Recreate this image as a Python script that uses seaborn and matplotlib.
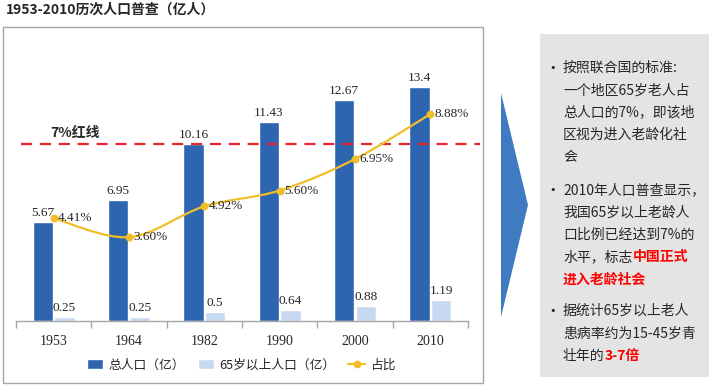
import numpy as np
import pandas as pd
import matplotlib
matplotlib.use("Agg")
import matplotlib.pyplot as plt
import seaborn as sns
from matplotlib.path import Path
from matplotlib.patches import PathPatch, Patch, Rectangle, Polygon
from matplotlib.lines import Line2D

# data
years = ["1953", "1964", "1982", "1990", "2000", "2010"]
total_pop = [5.67, 6.95, 10.16, 11.43, 12.67, 13.4]
elderly_pop = [0.25, 0.25, 0.5, 0.64, 0.88, 1.19]
elderly_ratio = [4.41, 3.60, 4.92, 5.60, 6.95, 8.88]
series_names = ["总人口（亿）", "65岁以上人口（亿）", "占比"]
red_line_label = "7%红线"
red_line_pos = 7.6  # drawn a bit above the 7% point, as in the original

title = "1953-2010历次人口普查（亿人）"
notes = [
    [["按照联合国的标准:"], ["一个地区65岁老人占"], ["总人口的7%，即该地"],
     ["区视为进入老龄化社"], ["会"]],
    [["2010年人口普查显示，"], ["我国65岁以上老龄人"], ["口比例已经达到7%的"],
     ["水平，标志", "中国正式"], ["", "进入老龄社会"]],
    [["据统计65岁以上老人"], ["患病率约为15-45岁青"], ["壮年的", "3-7倍"]],
]
note_tops = [68, 190, 311]

dark_blue = "#2E65B0"
light_blue = "#C6D9F0"
gold = "#F0BE28"
red = "#E8252A"

sns.set_theme(style="white")
cjk = ["Noto Sans CJK SC", "DejaVu Sans"]
serif = ["Liberation Serif", "DejaVu Serif"]
plt.rcParams["font.family"] = cjk

W, H = 710, 386


def px(x, y):
    return x / W, 1 - y / H


fig = plt.figure(figsize=(W / 100, H / 100), dpi=100)
ax = fig.add_axes([16 / W, (H - 321) / H, 452 / W, 281 / H])

df = pd.DataFrame({
    "year": years * 2,
    "value": total_pop + elderly_pop,
    "series": [series_names[0]] * len(years) + [series_names[1]] * len(years),
})
sns.barplot(data=df, x="year", y="value", hue="series",
            palette=[dark_blue, light_blue], saturation=1, width=0.57,
            gap=0.05, errorbar=None, legend=False, ax=ax)
for cont in ax.containers:
    ax.bar_label(cont, fmt="%g", padding=2, fontsize=9.5, family=serif)

ax.set_ylim(0, 16.1)
ax.set_xlim(-0.5, len(years) - 0.5)
ax.set_xlabel("")
ax.set_ylabel("")
ax.set_yticks([])
ax.set_xticks(np.arange(-0.5, len(years)), minor=True)
ax.tick_params(axis="x", which="major", length=0, pad=10, labelsize=10)
ax.tick_params(axis="x", which="minor", length=5, width=1, color="#A6A6A6",
               direction="out", bottom=True)
for lab in ax.get_xticklabels():
    lab.set_family(serif)
for s in ["top", "left", "right"]:
    ax.spines[s].set_visible(False)
ax.spines["bottom"].set_color("#A6A6A6")
ax.spines["bottom"].set_linewidth(1)

# ratio on a second axis, smoothed line like the original
ax2 = ax.twinx()
ax2.set_ylim(0, 12.06)
xs = np.arange(len(elderly_ratio))
pts = np.column_stack([xs, elderly_ratio]).astype(float)
verts = [pts[0]]
codes = [Path.MOVETO]
n = len(pts)
for i in range(n - 1):
    p0, p1, p2, p3 = pts[max(i - 1, 0)], pts[i], pts[i + 1], pts[min(i + 2, n - 1)]
    verts += [p1 + (p2 - p0) / 6, p2 - (p3 - p1) / 6, p2]
    codes += [Path.CURVE4] * 3
ax2.add_patch(PathPatch(Path(verts, codes), fill=False, edgecolor=gold,
                        lw=1.6, zorder=3))
sns.scatterplot(x=xs, y=elderly_ratio, color=gold, s=28, edgecolor=gold,
                zorder=4, legend=False, ax=ax2)
for x, v in zip(xs, elderly_ratio):
    ax2.annotate(f"{v:.2f}%", (x, v), xytext=(3, 0), textcoords="offset points",
                 ha="left", va="center", fontsize=9.5, family=serif)

ax2.axhline(red_line_pos, xmin=0.011, xmax=1.027, color=red, lw=1.6,
            ls=(0, (5, 3.5)), clip_on=False, zorder=2)
ax2.annotate(red_line_label, (-0.05, red_line_pos), xytext=(0, 3),
             textcoords="offset points", ha="left", va="bottom",
             fontsize=10, fontweight="bold")
ax2.set_xlim(-0.5, len(years) - 0.5)
ax2.set_yticks([])
ax2.set_ylabel("")
for s in ax2.spines.values():
    s.set_visible(False)

handles = [Patch(facecolor=dark_blue), Patch(facecolor=light_blue),
           Line2D([], [], color=gold, lw=1.6, marker="o", ms=4.5)]
fig.legend(handles, series_names, loc="center", bbox_to_anchor=px(241, 365),
           ncol=3, frameon=False, handlelength=1.3, handleheight=0.8,
           handletextpad=0.4, columnspacing=1.0, fontsize=9.2)

# frame round the chart, title, arrow and notes panel
fig.add_artist(Rectangle(px(3, 383), 480 / W, 356 / H, transform=fig.transFigure,
                         fill=False, edgecolor="#A6A6A6", lw=1))
fig.text(*px(6, 10), title, fontsize=10, fontweight="bold", va="center", ha="left")
fig.add_artist(Polygon([px(501, 93), px(528, 205), px(501, 317)], closed=True,
                       transform=fig.transFigure, facecolor="#3F7BC0",
                       edgecolor="none"))
fig.add_artist(Rectangle(px(540, 377), 169 / W, 343 / H, transform=fig.transFigure,
                         facecolor="#E4E4E4", edgecolor="none"))

renderer = fig.canvas.get_renderer()
for para, top in zip(notes, note_tops):
    fig.text(*px(549, top), "•", fontsize=8, va="center", ha="left",
             family=["DejaVu Sans"])
    for k, parts in enumerate(para):
        y = top + k * 22.3
        x0 = 563
        if parts[0]:
            t = fig.text(*px(x0, y), parts[0], fontsize=10, va="center", ha="left")
            x0 = t.get_window_extent(renderer).x1
        if len(parts) > 1:
            fig.text(*px(x0, y), parts[1], fontsize=10, fontweight="bold",
                     color="#FF0000", va="center", ha="left")

fig.savefig("out.png", dpi=100)
